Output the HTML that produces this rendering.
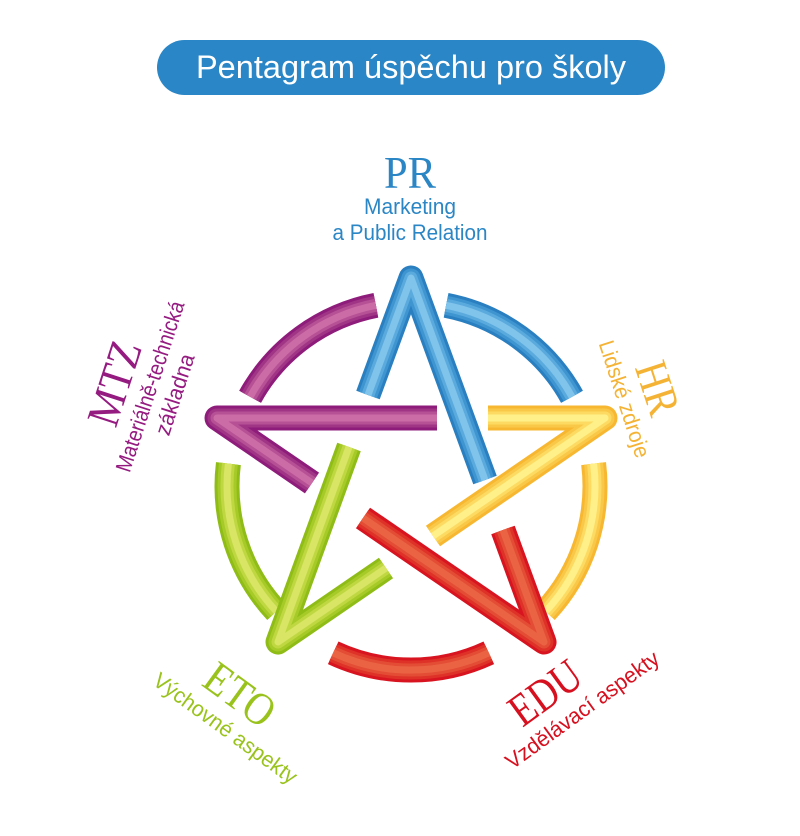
<!DOCTYPE html>
<html><head><meta charset="utf-8"><style>
html,body{margin:0;padding:0;background:#fff;width:800px;height:836px;overflow:hidden}
svg{display:block}
.big{font-family:"Liberation Serif",serif;font-size:46px}
.sub{font-family:"Liberation Sans",sans-serif;font-size:22px}
</style></head><body>
<svg width="800" height="836" viewBox="0 0 800 836" xmlns="http://www.w3.org/2000/svg">
<defs>
<path id="ab" d="M446.1,305.3 A184,184 0 0 1 572.0,396.8"/>
<path id="ay" d="M593.6,463.6 A184,184 0 0 1 545.6,611.5"/>
<path id="ar" d="M488.8,652.8 A184,184 0 0 1 333.2,652.8"/>
<path id="ag" d="M276.4,611.5 A184,184 0 0 1 228.4,463.6"/>
<path id="ap" d="M250.1,396.8 A184,184 0 0 1 375.9,305.3"/>
<path id="sb" d="M368,395 L411,278 L485,480"/>
<path id="sp" d="M437,418 L217,418 L312,483"/>
<path id="sy" d="M488,418 L605,418 L433,536"/>
<path id="sg" d="M349,447 L278,642 L386,568"/>
<path id="sr" d="M363,518 L544,642 L503,530"/>
</defs>
<g fill="none" stroke-linejoin="round" stroke-linecap="butt">
<g><use href="#ab" stroke="#2a7fc0" stroke-width="25"/><use href="#ab" stroke="#3f95d0" stroke-width="19"/><use href="#ab" stroke="#5aaade" stroke-width="13"/><use href="#ab" stroke="#80c3eb" stroke-width="7"/></g>
<g><use href="#ay" stroke="#f7b731" stroke-width="25"/><use href="#ay" stroke="#fac848" stroke-width="19"/><use href="#ay" stroke="#fddb62" stroke-width="13"/><use href="#ay" stroke="#fff08a" stroke-width="7"/></g>
<g><use href="#ar" stroke="#d7141f" stroke-width="25"/><use href="#ar" stroke="#de3128" stroke-width="19"/><use href="#ar" stroke="#e44d35" stroke-width="13"/><use href="#ar" stroke="#ea6444" stroke-width="7"/></g>
<g><use href="#ag" stroke="#8fbc16" stroke-width="25"/><use href="#ag" stroke="#a6ca28" stroke-width="19"/><use href="#ag" stroke="#bfd842" stroke-width="13"/><use href="#ag" stroke="#d8e565" stroke-width="7"/></g>
<g><use href="#ap" stroke="#8e1c7a" stroke-width="25"/><use href="#ap" stroke="#a03586" stroke-width="19"/><use href="#ap" stroke="#b65196" stroke-width="13"/><use href="#ap" stroke="#cc6ca6" stroke-width="7"/></g>
<g><use href="#sb" stroke="#2a7fc0" stroke-width="25"/><use href="#sb" stroke="#3f95d0" stroke-width="19"/><use href="#sb" stroke="#5aaade" stroke-width="13"/><use href="#sb" stroke="#80c3eb" stroke-width="7"/></g>
<g><use href="#sp" stroke="#8e1c7a" stroke-width="25"/><use href="#sp" stroke="#a03586" stroke-width="19"/><use href="#sp" stroke="#b65196" stroke-width="13"/><use href="#sp" stroke="#cc6ca6" stroke-width="7"/></g>
<g><use href="#sy" stroke="#f7b731" stroke-width="25"/><use href="#sy" stroke="#fac848" stroke-width="19"/><use href="#sy" stroke="#fddb62" stroke-width="13"/><use href="#sy" stroke="#fff08a" stroke-width="7"/></g>
<g><use href="#sg" stroke="#8fbc16" stroke-width="25"/><use href="#sg" stroke="#a6ca28" stroke-width="19"/><use href="#sg" stroke="#bfd842" stroke-width="13"/><use href="#sg" stroke="#d8e565" stroke-width="7"/></g>
<g><use href="#sr" stroke="#d7141f" stroke-width="25"/><use href="#sr" stroke="#de3128" stroke-width="19"/><use href="#sr" stroke="#e44d35" stroke-width="13"/><use href="#sr" stroke="#ea6444" stroke-width="7"/></g>
</g>

<rect x="157" y="40" width="508" height="55" rx="27.5" fill="#2a86c6"/>
<text x="411" y="78" fill="#fff" text-anchor="middle" font-family="'Liberation Sans',sans-serif" font-size="32" textLength="430" lengthAdjust="spacingAndGlyphs">Pentagram úspěchu pro školy</text>

<g fill="#2b86c5" text-anchor="middle" transform="translate(410,188)">
<text class="big" y="0" textLength="52" lengthAdjust="spacingAndGlyphs">PR</text>
<text class="sub" y="26" textLength="92" lengthAdjust="spacingAndGlyphs">Marketing</text>
<text class="sub" y="52" textLength="155" lengthAdjust="spacingAndGlyphs">a Public Relation</text>
</g>
<g fill="#f5b335" text-anchor="middle" transform="translate(643,393) rotate(72)">
<text class="big" y="0" textLength="54" lengthAdjust="spacingAndGlyphs">HR</text>
<text class="sub" y="27" textLength="122" lengthAdjust="spacingAndGlyphs">Lidské zdroje</text>
</g>
<g fill="#951b81" text-anchor="middle" transform="translate(129,388) rotate(-72)">
<text class="big" y="0" textLength="86" lengthAdjust="spacingAndGlyphs">MTZ</text>
<text class="sub" x="8" y="27" textLength="178" lengthAdjust="spacingAndGlyphs">Materiálně-technická</text>
<text class="sub" x="8" y="53" textLength="84" lengthAdjust="spacingAndGlyphs">základna</text>
</g>
<g fill="#99c31c" text-anchor="middle" transform="translate(231,707) rotate(36)">
<text class="big" y="0" textLength="76" lengthAdjust="spacingAndGlyphs">ETO</text>
<text class="sub" x="8" y="28" textLength="172" lengthAdjust="spacingAndGlyphs">Výchovné aspekty</text>
</g>
<g fill="#d7101f" text-anchor="middle" transform="translate(554,705) rotate(-36)">
<text class="big" y="0" textLength="78" lengthAdjust="spacingAndGlyphs">EDU</text>
<text class="sub" x="20" y="28" textLength="184" lengthAdjust="spacingAndGlyphs">Vzdělávací aspekty</text>
</g>
</svg>
</body></html>
